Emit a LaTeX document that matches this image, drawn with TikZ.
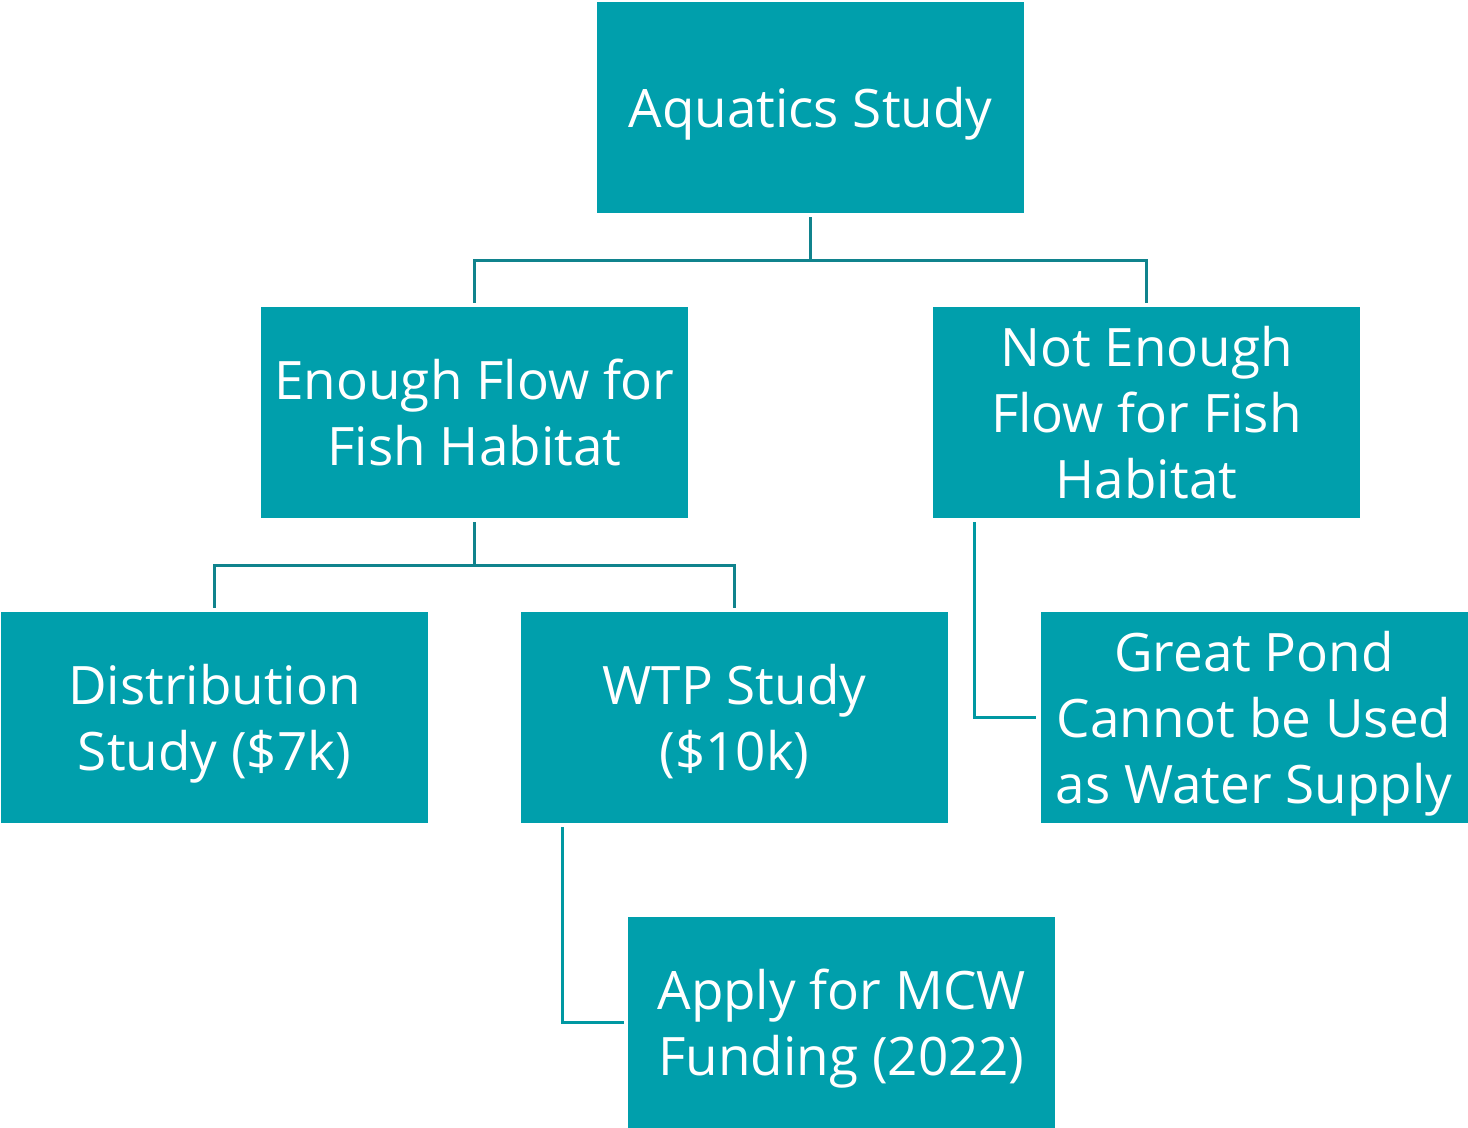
\documentclass[tikz,border=0pt]{standalone}
\usepackage{fontspec}
\setmainfont{Open Sans}
\definecolor{boxc}{HTML}{009FAC}
\definecolor{treec}{HTML}{10838D}
\definecolor{sidec}{HTML}{0098A2}
\begin{document}
\begin{tikzpicture}[x=0.5pt,y=-0.5pt,
  box/.style={fill=boxc,draw=none,minimum width=213.5pt,minimum height=105.5pt,inner sep=0pt,
    text=white,align=center,font=\fontsize{26.5}{33}\selectfont,text depth=0pt},
  tree/.style={draw=treec,line width=1.5pt},
  side/.style={draw=sidec,line width=1.5pt}]
\useasboundingbox (0,0) rectangle (1468,1128);
\node[box] (aq) at (810.5,107.5) {Aquatics Study};
\node[box] (ef) at (474.5,412.5) {Enough Flow for\\Fish Habitat};
\node[box] (ne) at (1146.5,412.5) {Not Enough\\Flow for Fish\\Habitat};
\node[box] (ds) at (214.5,717.5) {Distribution\\Study (\$7k)};
\node[box] (wtp) at (734.5,717.5) {WTP Study\\(\$10k)};
\node[box] (gp) at (1254,717.5) {Great Pond\\Cannot be Used\\as Water Supply};
\node[box] (ap) at (841.5,1022) {Apply for MCW\\Funding (2022)};
\draw[tree] ([yshift=-2pt]aq.south) -- ++(0,43) -| ([yshift=2pt]ne.north);
\draw[tree] ([yshift=-2pt]aq.south) ++(0,43) -| ([yshift=2pt]ef.north);
\draw[tree] ([yshift=-2pt]ef.south) -- ++(0,43) -| ([yshift=2pt]wtp.north);
\draw[tree] ([yshift=-2pt]ef.south) ++(0,43) -| ([yshift=2pt]ds.north);
\draw[side] ([xshift=21pt,yshift=-2pt]ne.south west) |- ([xshift=-2pt]gp.west);
\draw[side] ([xshift=21pt,yshift=-2pt]wtp.south west) |- ([xshift=-2pt]ap.west);
\end{tikzpicture}
\end{document}
